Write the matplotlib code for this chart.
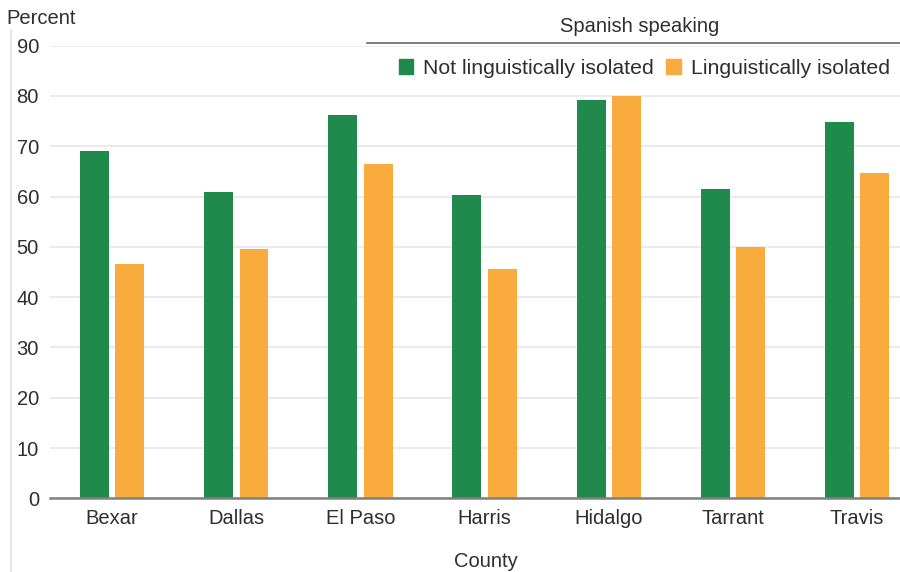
import numpy as np
import matplotlib.pyplot as plt
from matplotlib.patches import Patch
from matplotlib.lines import Line2D

plt.rcParams['font.family'] = ['Liberation Sans', 'DejaVu Sans']

counties = ['Bexar', 'Dallas', 'El Paso', 'Harris', 'Hidalgo', 'Tarrant', 'Travis']
not_isolated = [69.1, 61.0, 76.2, 60.4, 79.2, 61.6, 74.8]
isolated = [46.5, 49.6, 66.5, 45.5, 80.0, 50.0, 64.6]

green = '#1f8a4b'
orange = '#f9ab3d'
txt = '#2e2e2e'
fs = 14.5

fig = plt.figure(figsize=(9, 5.72), dpi=100)
ax = fig.add_axes([50 / 900, 1 - 498.3 / 572, 850 / 900, (498.3 - 45.7) / 572])

x = np.arange(len(counties))
w = 0.233
off = 0.143
ax.bar(x - off, not_isolated, w, color=green, zorder=3)
ax.bar(x + off, isolated, w, color=orange, zorder=3)

ax.set_ylim(0, 90)
ax.set_xlim(-0.5, 6.345)
ax.set_yticks(range(0, 91, 10))
ax.set_xticks(x)
ax.set_xticklabels(counties)
ax.tick_params(axis='both', length=0, labelsize=fs, colors=txt)
ax.tick_params(axis='y', pad=8)
ax.tick_params(axis='x', pad=8)
ax.grid(axis='y', color='#e8e8e8', linewidth=1.2, zorder=0)
for s in ['top', 'right', 'left']:
    ax.spines[s].set_visible(False)
ax.spines['bottom'].set_color('#808080')
ax.spines['bottom'].set_linewidth(1.8)
ax.spines['bottom'].set_zorder(4)

ax.set_xlabel('County', fontsize=fs, color=txt)
ax.xaxis.set_label_coords(0.513, -0.118)
fig.text(6 / 900, 1 - 18 / 572, 'Percent', fontsize=fs, color=txt, va='center', ha='left')

# group header over the legend
fig.text(640 / 900, 1 - 27 / 572, 'Spanish speaking', fontsize=fs, color=txt, ha='center', va='center')
fig.add_artist(Line2D([367 / 900, 1.0], [1 - 43 / 572, 1 - 43 / 572], color='#666666', linewidth=1.2))

# thin frame line at the left edge
fig.add_artist(Line2D([11 / 900, 11 / 900], [0, 1 - 30 / 572], color='#e0e0e0', linewidth=1.2))

handles = [Patch(color=green, label='Not linguistically isolated'),
           Patch(color=orange, label='Linguistically isolated')]
fig.legend(handles=handles, ncol=2, frameon=False, fontsize=15.3,
           loc='center right', bbox_to_anchor=(1.01, 1 - 68 / 572),
           handlelength=0.7, handleheight=0.7, handletextpad=0.45, columnspacing=0.6,
           labelcolor=txt)

fig.savefig('out.png', dpi=100)
